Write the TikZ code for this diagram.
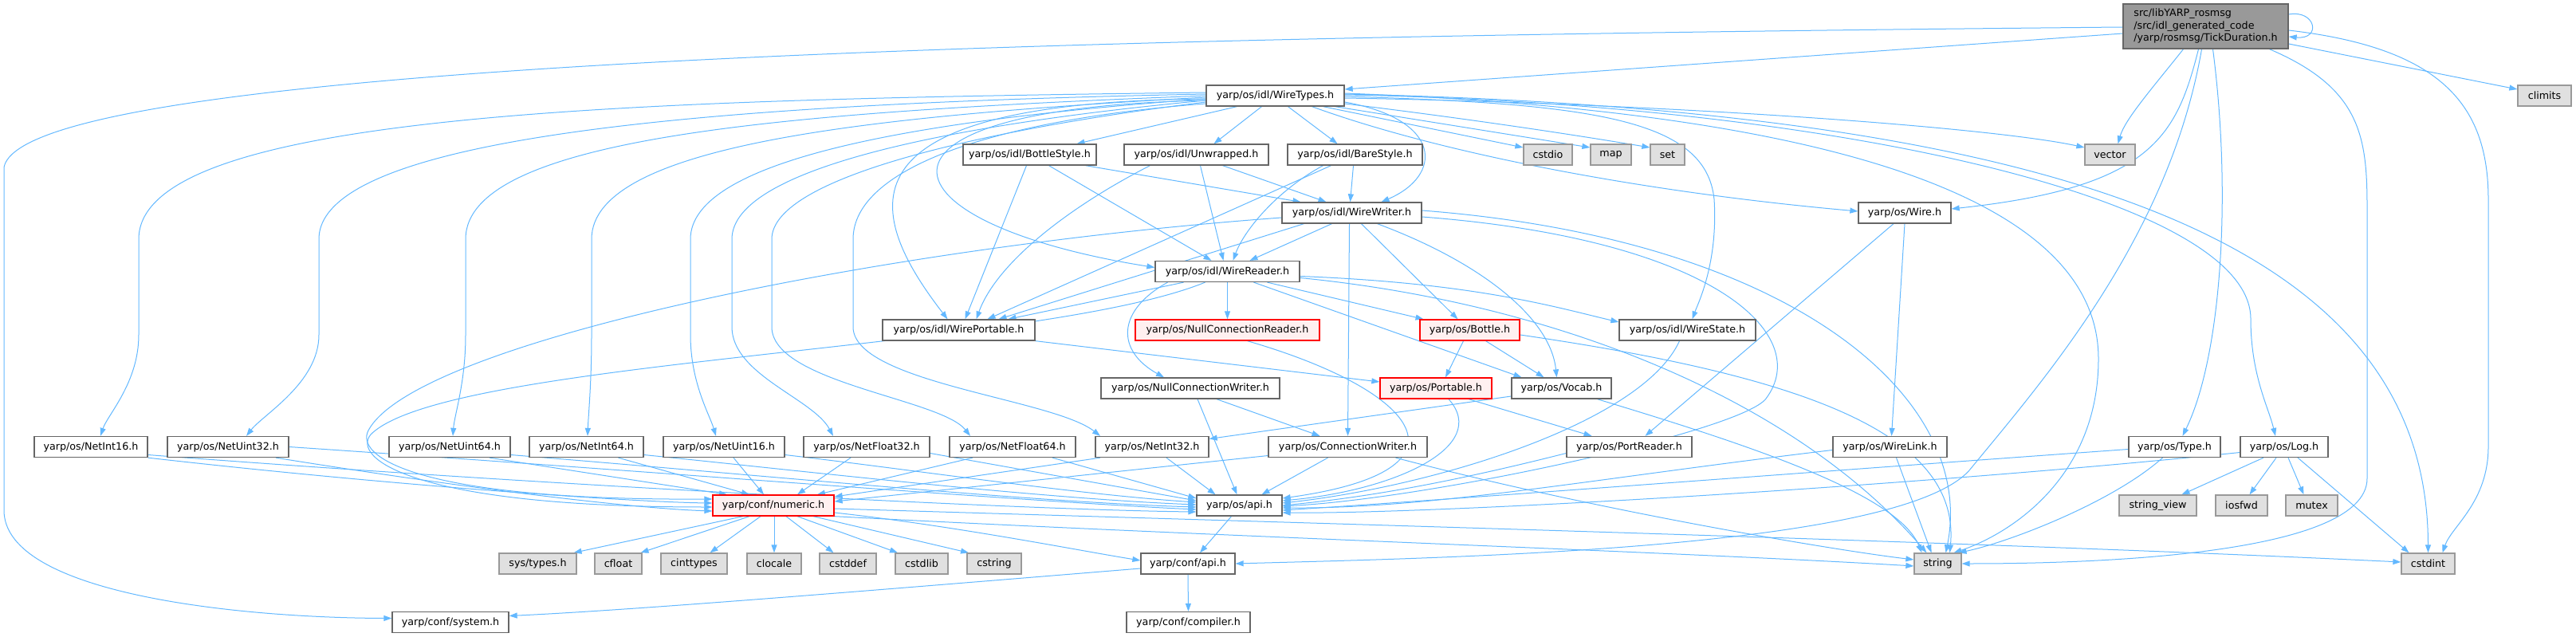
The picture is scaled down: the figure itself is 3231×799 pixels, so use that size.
\documentclass[tikz,border=0pt]{standalone}
\usepackage{fontspec}
\setmainfont{DejaVu Sans}
\usetikzlibrary{arrows.meta}
\pgfdeclarelayer{bg}
\pgfsetlayers{bg,main}
\definecolor{edgec}{HTML}{63B8FF}
\definecolor{bord}{HTML}{666666}
\definecolor{gbord}{HTML}{999999}
\definecolor{gfill}{HTML}{E0E0E0}
\definecolor{rfill}{HTML}{FFF0F0}
\definecolor{rootfill}{HTML}{999999}
\newcommand\gfs{\fontsize{12.7}{15.5}\selectfont}
\begin{document}
\begin{tikzpicture}[x=1pt,y=-1pt,
 nb/.style={draw=bord,fill=white,line width=1.3pt,minimum height=26pt,inner sep=0pt,font=\gfs,text=black},
 ng/.style={nb,draw=gbord,fill=gfill},
 nr/.style={nb,draw=red,fill=rfill},
 nroot/.style={nb,draw=bord,fill=rootfill,minimum height=56pt,align=left},
 e/.style={draw=edgec,line width=1pt,-{Triangle[length=10pt,width=7pt]}}]
\useasboundingbox (0,0) rectangle (3231,799);
% nodes
\node[nroot,minimum width=207pt] (R) at (2766.5,33) {src/libYARP\_rosmsg\\/src/idl\_generated\_code\\/yarp/rosmsg/TickDuration.h};
\node[ng,minimum width=67pt] (climits) at (3191.5,120) {climits};
\node[nb,minimum width=173pt] (WT) at (1599.5,120) {yarp/os/idl/WireTypes.h};
\node[nb,minimum width=167pt] (BS) at (1291.5,194) {yarp/os/idl/BottleStyle.h};
\node[nb,minimum width=181pt] (UW) at (1500.5,194) {yarp/os/idl/Unwrapped.h};
\node[nb,minimum width=169pt] (BA) at (1699.5,194) {yarp/os/idl/BareStyle.h};
\node[ng,minimum width=61pt] (cstdio) at (1941.5,194) {cstdio};
\node[ng,minimum width=51pt] (map) at (2020.5,194) {map};
\node[ng,minimum width=43pt] (set) at (2091.5,194) {set};
\node[ng,minimum width=63pt] (vector) at (2646.5,194) {vector};
\node[nb,minimum width=175pt] (WW) at (1695.5,267) {yarp/os/idl/WireWriter.h};
\node[nb,minimum width=116pt] (Wire) at (2389,267) {yarp/os/Wire.h};
\node[nb,minimum width=181pt] (WR) at (1539.5,340.5) {yarp/os/idl/WireReader.h};
\node[nb,minimum width=191pt] (WP) at (1202.5,414) {yarp/os/idl/WirePortable.h};
\node[nr,minimum width=231pt] (NCR) at (1539.5,414) {yarp/os/NullConnectionReader.h};
\node[nr,minimum width=125pt] (Bottle) at (1843.5,414) {yarp/os/Bottle.h};
\node[nb,minimum width=171pt] (WS) at (2116.5,414) {yarp/os/idl/WireState.h};
\node[nb,minimum width=224pt] (NCW) at (1493,487) {yarp/os/NullConnectionWriter.h};
\node[nr,minimum width=140pt] (Portable) at (1801,487) {yarp/os/Portable.h};
\node[nb,minimum width=125pt] (Vocab) at (1958.5,487) {yarp/os/Vocab.h};
\node[nb,minimum width=142pt] (NI16) at (114,560.5) {yarp/os/NetInt16.h};
\node[nb,minimum width=152pt] (NU32) at (286,560.5) {yarp/os/NetUint32.h};
\node[nb,minimum width=152pt] (NU64) at (564,560.5) {yarp/os/NetUint64.h};
\node[nb,minimum width=143pt] (NI64) at (735.5,560.5) {yarp/os/NetInt64.h};
\node[nb,minimum width=152pt] (NU16) at (908,560.5) {yarp/os/NetUint16.h};
\node[nb,minimum width=158pt] (NF32) at (1087,560.5) {yarp/os/NetFloat32.h};
\node[nb,minimum width=158pt] (NF64) at (1270,560.5) {yarp/os/NetFloat64.h};
\node[nb,minimum width=142pt] (NI32) at (1445,560.5) {yarp/os/NetInt32.h};
\node[nb,minimum width=199pt] (CW) at (1690.5,560.5) {yarp/os/ConnectionWriter.h};
\node[nb,minimum width=157pt] (PR) at (2043.5,560.5) {yarp/os/PortReader.h};
\node[nb,minimum width=143pt] (WL) at (2370.5,560.5) {yarp/os/WireLink.h};
\node[nb,minimum width=115pt] (Type) at (2727.5,560.5) {yarp/os/Type.h};
\node[nb,minimum width=110pt] (Log) at (2865,560.5) {yarp/os/Log.h};
\node[nr,minimum width=152pt] (numeric) at (970,634) {yarp/conf/numeric.h};
\node[nb,minimum width=107pt] (osapi) at (1554.5,634) {yarp/os/api.h};
\node[ng,minimum width=97pt] (sv) at (2706.5,634) {string\_view};
\node[ng,minimum width=65pt] (iosfwd) at (2811.5,634) {iosfwd};
\node[ng,minimum width=65pt] (mutex) at (2899.5,634) {mutex};
\node[ng,minimum width=97pt] (systypes) at (674.5,707) {sys/types.h};
\node[ng,minimum width=59pt] (cfloat) at (775.5,707) {cfloat};
\node[ng,minimum width=83pt] (cinttypes) at (870.5,707) {cinttypes};
\node[ng,minimum width=68pt] (clocale) at (971,707) {clocale};
\node[ng,minimum width=71pt] (cstddef) at (1063.5,707) {cstddef};
\node[ng,minimum width=66pt] (cstdlib) at (1156,707) {cstdlib};
\node[ng,minimum width=68pt] (cstring) at (1247,707) {cstring};
\node[nb,minimum width=118pt] (confapi) at (1490,707) {yarp/conf/api.h};
\node[ng,minimum width=59pt] (string) at (2430.5,707) {string};
\node[ng,minimum width=67pt] (cstdint) at (3045.5,707) {cstdint};
\node[nb,minimum width=146pt] (system) at (565,780.5) {yarp/conf/system.h};
\node[nb,minimum width=155pt] (compiler) at (1490.5,780.5) {yarp/conf/compiler.h};
\begin{pgfonlayer}{bg}
% root edges
\draw[e] ([yshift=15pt]R.east) .. controls (2905,12) and (2912,50) .. ([yshift=-13pt]R.east);
\draw[e] ([yshift=-9pt]R.west) -- ([yshift=8pt]WT.east);
\draw[e] ([yshift=-22pt]R.east) -- ([yshift=8pt]climits.west);
\draw[e] ([xshift=-28pt]R.south) .. controls (2700,110) and (2665,150) .. ([xshift=10pt]vector.north);
\draw[e] ([xshift=-9pt]R.south) .. controls (2730,170) and (2700,235) .. ([yshift=5pt]Wire.east);
\draw[e] ([xshift=-5pt]R.south) .. controls (2720,300) and (2560,480) .. (2470,590) .. controls (2380,690) and (1800,700) .. (confapi.east);
\draw[e] ([xshift=9pt]R.south) .. controls (2800,250) and (2785,450) .. ([xshift=10pt]Type.north);
\draw[e] ([xshift=80pt]R.south) .. controls (2960,110) and (2969,170) .. (2969,260) -- (2969,600) .. controls (2969,700) and (2600,707) .. (string.east);
\draw[e] ([yshift=-5pt]R.east) .. controls (3060,60) and (3121,130) .. (3121,250) -- (3121,560) .. controls (3121,630) and (3075,660) .. ([xshift=18pt]cstdint.north);
\draw[e] ([yshift=-1pt]R.west) .. controls (1500,45) and (30,70) .. (5,210) -- (5,640) .. controls (5,745) and (300,775) .. ([yshift=5pt]system.west);
% WireTypes to Net*
\draw[e] ([yshift=4pt]WT.west) .. controls (800,125) and (174,140) .. (174,300) -- (174,420) .. controls (174,480) and (135,520) .. ([xshift=12pt]NI16.north);
\draw[e] ([yshift=2pt]WT.west) .. controls (900,130) and (400,170) .. (400,300) -- (400,420) .. controls (400,480) and (330,520) .. ([xshift=23pt]NU32.north);
\draw[e] (WT.west) .. controls (1000,140) and (584,170) .. (584,300) -- (584,420) .. controls (584,480) and (570,520) .. ([xshift=4pt]NU64.north);
\draw[e] ([yshift=-2pt]WT.west) .. controls (1100,145) and (742,180) .. (742,300) -- (742,420) .. controls (742,480) and (738,520) .. ([xshift=1.5pt]NI64.north);
\draw[e] ([yshift=-4pt]WT.west) .. controls (1150,150) and (866,200) .. (866,300) -- (866,420) .. controls (866,480) and (890,520) .. ([xshift=-10pt]NU16.north);
\draw[e] ([yshift=-6pt]WT.west) .. controls (1200,155) and (918,210) .. (918,300) -- (918,410) .. controls (918,470) and (1020,500) .. ([xshift=-42pt]NF32.north);
\draw[e] ([yshift=-8pt]WT.west) .. controls (1250,160) and (968,220) .. (968,300) -- (968,410) .. controls (968,480) and (1180,500) .. ([xshift=-53pt]NF64.north);
\draw[e] ([yshift=-10pt]WT.west) .. controls (1250,150) and (1070,210) .. (1070,300) -- (1070,410) .. controls (1070,480) and (1320,500) .. ([xshift=-65pt]NI32.north);
% WireTypes others
\draw[e] ([xshift=-48pt]WT.south) -- ([xshift=59pt]BS.north);
\draw[e] ([xshift=-17pt]WT.south) -- ([xshift=22pt]UW.north);
\draw[e] ([xshift=16pt]WT.south) -- ([xshift=-22pt]BA.north);
\draw[e] ([yshift=-8pt]WT.east) .. controls (1810,150) and (1810,220) .. ([xshift=37pt]WW.north);
\draw[e] ([yshift=-6pt]WT.west) .. controls (1050,135) and (1100,280) .. ([yshift=5pt]WR.west);
\draw[e] ([yshift=-4pt]WT.west) .. controls (1050,128) and (1080,260) .. ([xshift=-14pt]WP.north);
\draw[e] ([xshift=60pt]WT.south) -- ([yshift=9pt]cstdio.west);
\draw[e] ([xshift=75pt]WT.south) -- ([yshift=9pt]map.west);
\draw[e] ([yshift=-10pt]WT.east) .. controls (1850,150) and (1980,170) .. ([yshift=9pt]set.west);
\draw[e] ([yshift=-3pt]WT.east) .. controls (2100,130) and (2500,160) .. ([yshift=9pt]vector.west);
\draw[e] ([xshift=46pt]WT.south) .. controls (1800,190) and (2050,240) .. ([yshift=2pt]Wire.west);
\draw[e] ([yshift=-1pt]WT.east) .. controls (2000,130) and (2140,150) .. (2150,250) .. controls (2155,330) and (2130,380) .. ([xshift=6pt]WS.north);
\draw[e] ([yshift=1pt]WT.east) .. controls (2300,130) and (2823,250) .. (2823,400) .. controls (2823,470) and (2845,510) .. ([xshift=-11pt]Log.north);
\draw[e] ([yshift=2pt]WT.east) .. controls (2700,140) and (3045,350) .. (cstdint.north);
\draw[e] ([yshift=3pt]WT.east) .. controls (2300,140) and (2632,250) .. (2632,450) .. controls (2632,600) and (2520,670) .. ([xshift=20pt]string.north);
% styles
\draw[e] ([xshift=70pt]BS.south) -- ([xshift=-64pt]WW.north);
\draw[e] ([xshift=24pt]BS.south) -- ([xshift=-20pt]WR.north);
\draw[e] ([xshift=-4pt]BS.south) -- ([xshift=8pt]WP.north);
\draw[e] ([xshift=33pt]UW.south) -- ([xshift=-32pt]WW.north);
\draw[e] ([xshift=5pt]UW.south) -- ([xshift=-5pt]WR.north);
\draw[e] ([xshift=-58pt]UW.south) .. controls (1340,260) and (1250,330) .. ([xshift=22pt]WP.north);
\draw[e] ([xshift=-2pt]BA.south) -- ([xshift=-2pt]WW.north);
\draw[e] ([xshift=-40pt]BA.south) .. controls (1600,240) and (1560,290) .. ([xshift=7pt]WR.north);
\draw[e] ([xshift=-30pt]BA.south) -- ([xshift=36pt]WP.north);
% WireWriter
\draw[e] ([xshift=-25pt]WW.south) -- ([xshift=28pt]WR.north);
\draw[e] ([xshift=-60pt]WW.south) -- ([xshift=50pt]WP.north);
\draw[e] ([yshift=-6pt]WW.west) .. controls (1100,310) and (520,430) .. (462,540) .. controls (445,572) and (520,628) .. ([yshift=8pt]numeric.west);
\draw[e] ([xshift=-3pt]WW.south) -- (CW.north);
\draw[e] ([xshift=12pt]WW.south) -- ([xshift=-15pt]Bottle.north);
\draw[e] ([xshift=32pt]WW.south) .. controls (1860,330) and (1945,400) .. ([xshift=-6pt]Vocab.north);
\draw[e] ([yshift=3pt]WW.east) .. controls (2250,300) and (2480,500) .. ([xshift=10pt]string.north);
\draw[e] ([yshift=-5pt]WW.east) .. controls (2150,300) and (2275,420) .. (2215,500) .. controls (2185,540) and (1800,625) .. ([yshift=-1pt]osapi.east);
% WireReader
\draw[e] ([xshift=-55pt]WR.south) -- ([xshift=62pt]WP.north);
\draw[e] ([xshift=-28pt]WR.south) .. controls (1300,440) and (560,450) .. (465,545) .. controls (440,575) and (520,636) .. ([yshift=-2pt]numeric.west);
\draw[e] (WR.south) -- (NCR.north);
\draw[e] ([xshift=-75pt]WR.south) .. controls (1400,390) and (1400,440) .. ([xshift=-33pt]NCW.north);
\draw[e] ([xshift=50pt]WR.south) -- ([xshift=-58pt]Bottle.north);
\draw[e] ([xshift=33pt]WR.south) -- ([xshift=-50pt]Vocab.north);
\draw[e] ([yshift=-6pt]WR.east) .. controls (1850,355) and (1950,385) .. ([yshift=10pt]WS.west);
\draw[e] ([yshift=-8pt]WR.east) .. controls (1950,380) and (2250,500) .. ([xshift=-14pt]string.north);
% middle
\draw[e] (WP.south east) -- ([yshift=8pt]Portable.west);
\draw[e] ([xshift=25pt]NCR.south) .. controls (1780,490) and (1860,590) .. ([yshift=9pt]osapi.east);
\draw[e] ([xshift=-8pt]Bottle.south) -- ([xshift=12pt]Portable.north);
\draw[e] ([xshift=20pt]Bottle.south) -- ([xshift=-22pt]Vocab.north);
\draw[e] ([yshift=-6pt]Bottle.east) .. controls (2250,470) and (2460,540) .. ([xshift=15pt]string.north);
\draw[e] ([xshift=-10pt]WS.south) .. controls (2060,530) and (1800,610) .. ([yshift=3pt]osapi.east);
\draw[e] ([xshift=9pt]NCW.south) -- ([xshift=-3pt]osapi.north);
\draw[e] ([xshift=33pt]NCW.south) -- ([xshift=-35pt]CW.north);
\draw[e] ([xshift=41pt]Portable.south) -- ([xshift=-47pt]PR.north);
\draw[e] ([xshift=16pt]Portable.south) .. controls (1870,560) and (1750,615) .. ([yshift=6pt]osapi.east);
\draw[e] ([yshift=-10pt]Vocab.west) -- ([yshift=10pt]NI32.east);
\draw[e] ([xshift=45pt]Vocab.south) .. controls (2200,560) and (2380,620) .. ([xshift=-20pt]string.north);
\draw[e] ([yshift=-11pt]CW.west) -- ([yshift=5pt]numeric.east);
\draw[e] ([xshift=-25pt]CW.south) -- ([xshift=28pt]osapi.north);
\draw[e] ([xshift=60pt]CW.south) .. controls (2000,640) and (2300,690) .. ([yshift=5pt]string.west);
\draw[e] ([yshift=-8pt]PR.west) .. controls (1800,610) and (1700,625) .. (osapi.east);
\draw[e] ([xshift=-14pt]Wire.south) -- ([xshift=20pt]PR.north);
\draw[e] (Wire.south) -- ([xshift=2pt]WL.north);
\draw[e] ([yshift=-4pt]WL.west) .. controls (2000,600) and (1800,638) .. ([yshift=-3pt]osapi.east);
\draw[e] ([xshift=8pt]WL.south) -- ([xshift=-8pt]string.north);
\draw[e] ([yshift=-3pt]Type.west) .. controls (2300,590) and (1800,628) .. ([yshift=-6pt]osapi.east);
\draw[e] ([xshift=-15pt]Type.south) .. controls (2650,630) and (2520,680) .. ([xshift=26pt]string.north);
\draw[e] ([yshift=-7pt]Log.west) .. controls (2400,610) and (1800,645) .. ([yshift=-9pt]osapi.east);
\draw[e] ([xshift=-26pt]Log.south) -- ([xshift=30pt]sv.north);
\draw[e] ([xshift=-10pt]Log.south) -- ([xshift=10pt]iosfwd.north);
\draw[e] ([xshift=5pt]Log.south) -- ([xshift=-10pt]mutex.north);
\draw[e] ([xshift=17pt]Log.south) -- ([xshift=-24pt]cstdint.north);
% Net* edges
\draw[e] (NI16.south east) .. controls (500,610) and (800,630) .. ([yshift=3pt]numeric.west);
\draw[e] ([yshift=-10pt]NI16.east) .. controls (700,610) and (1300,640) .. ([yshift=-8pt]osapi.west);
\draw[e] ([xshift=60pt]NU32.south) .. controls (600,615) and (800,638) .. ([yshift=-7pt]numeric.west);
\draw[e] (NU32.east) .. controls (800,590) and (1300,630) .. ([yshift=-5pt]osapi.west);
\draw[e] ([xshift=50pt]NU64.south) -- ([xshift=-58pt]numeric.north);
\draw[e] ([yshift=-10pt]NU64.east) .. controls (1000,600) and (1300,630) .. ([yshift=-2pt]osapi.west);
\draw[e] ([xshift=40pt]NI64.south) -- ([xshift=-30pt]numeric.north);
\draw[e] ([yshift=-10pt]NI64.east) .. controls (1000,590) and (1300,625) .. ([yshift=1pt]osapi.west);
\draw[e] ([xshift=12pt]NU16.south) -- ([xshift=-12pt]numeric.north);
\draw[e] ([yshift=-10pt]NU16.east) .. controls (1150,590) and (1350,620) .. ([yshift=4pt]osapi.west);
\draw[e] ([xshift=-20pt]NF32.south) -- ([xshift=30pt]numeric.north);
\draw[e] ([yshift=-8pt]NF32.east) -- ([yshift=6pt]osapi.west);
\draw[e] ([xshift=-50pt]NF64.south) -- ([xshift=55pt]numeric.north);
\draw[e] ([xshift=50pt]NF64.south) -- ([yshift=9pt]osapi.west);
\draw[e] ([xshift=-65pt]NI32.south) -- ([yshift=11pt]numeric.east);
\draw[e] ([xshift=18pt]NI32.south) -- ([xshift=-30pt]osapi.north);
% numeric
\draw[e] ([xshift=-38pt]numeric.south) -- ([xshift=45pt]systypes.north);
\draw[e] ([xshift=-30pt]numeric.south) -- ([xshift=28pt]cfloat.north);
\draw[e] ([xshift=-16pt]numeric.south) -- ([xshift=20pt]cinttypes.north);
\draw[e] ([xshift=1pt]numeric.south) -- (clocale.north);
\draw[e] ([xshift=16pt]numeric.south) -- ([xshift=-18pt]cstddef.north);
\draw[e] ([xshift=30pt]numeric.south) -- ([xshift=-30pt]cstdlib.north);
\draw[e] ([xshift=50pt]numeric.south) -- ([xshift=-32pt]cstring.north);
\draw[e] ([yshift=-9pt]numeric.east) .. controls (1200,660) and (1350,690) .. ([yshift=4pt]confapi.west);
\draw[e] ([yshift=-4pt]numeric.east) .. controls (1600,655) and (2500,680) .. ([yshift=2pt]cstdint.west);
\draw[e] (numeric.south east) .. controls (1500,672) and (2100,692) .. ([yshift=-3pt]string.west);
% api
\draw[e] ([xshift=-10pt]osapi.south) -- ([xshift=15pt]confapi.north);
\draw[e] (confapi.south) -- (compiler.north);
\draw[e] ([yshift=-6pt]confapi.west) .. controls (1100,740) and (800,765) .. ([yshift=8pt]system.east);
\end{pgfonlayer}
\end{tikzpicture}
\end{document}
